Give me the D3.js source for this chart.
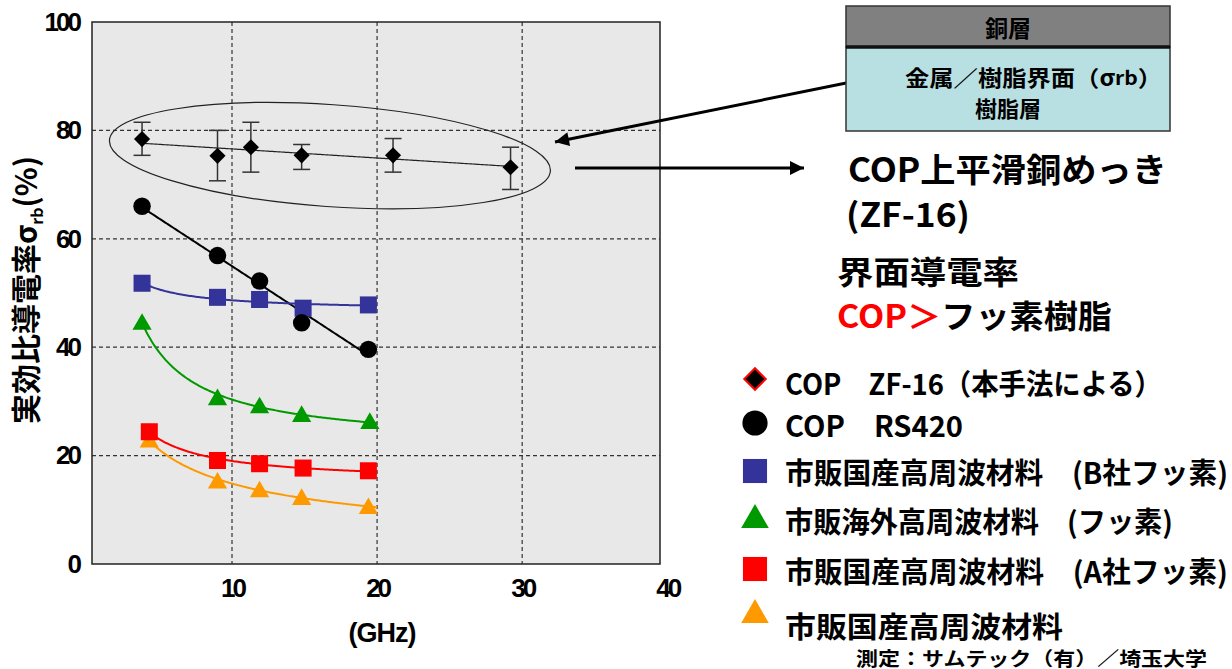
<!DOCTYPE html>
<html>
<head>
<meta charset="utf-8">
<script src="https://cdn.jsdelivr.net/npm/d3@7"></script>
<style>
  body { margin: 0; background: #fff; }
  svg { display: block; }
  text { font-family: "Noto Sans CJK JP", "Liberation Sans", sans-serif; font-weight: 700; }
</style>
</head>
<body>
<svg id="chart"></svg>
<script>
// frequency (GHz) / effective relative conductivity (%)
const freqZF  = [3.8, 9.0, 11.3, 14.8, 21.1, 29.2];
const sigmaZF = [78.4, 75.3, 76.9, 75.4, 75.4, 73.2];
const errHiZF = [81.5, 80.0, 81.5, 77.4, 78.5, 76.9];
const errLoZF = [75.4, 70.7, 72.3, 72.8, 72.3, 69.1];

const freqRS  = [3.8, 9.0, 11.9, 14.8, 19.4];
const sigmaRS = [66.0, 56.9, 52.2, 44.5, 39.6];

const freqB  = [3.8, 9.0, 11.9, 14.9, 19.4];
const sigmaB = [51.8, 49.2, 48.8, 47.2, 47.8];

const freqOv  = [3.8, 9.0, 11.9, 14.8, 19.5];
const sigmaOv = [44.6, 30.7, 29.2, 27.6, 26.3];

const freqA  = [4.3, 9.0, 11.9, 14.9, 19.4];
const sigmaA = [24.4, 19.1, 18.5, 17.7, 17.2];

const freqD  = [4.3, 9.0, 11.9, 14.8, 19.4];
const sigmaD = [22.9, 15.3, 13.7, 12.3, 10.6];

const xTicks = [10, 20, 30, 40];
const yTicks = [0, 20, 40, 60, 80, 100];

const legendLabels = [
  "COP\u3000ZF-16（本手法による）",
  "COP\u3000RS420",
  "市販国産高周波材料\u3000(B社フッ素)",
  "市販海外高周波材料\u3000(フッ素)",
  "市販国産高周波材料\u3000(A社フッ素)",
  "市販国産高周波材料"
];

const width = 1232, height = 669;
const plotL = 92, plotR = 660, plotT = 22, plotB = 564;

const svg = d3.select("#chart").attr("width", width).attr("height", height);

const x = d3.scaleLinear().domain([0.35, 39.5]).range([plotL, plotR]);
const y = d3.scaleLinear().domain([0, 100]).range([plotB, plotT]);

// plot area
svg.append("rect")
  .attr("x", plotL).attr("y", plotT)
  .attr("width", plotR - plotL).attr("height", plotB - plotT)
  .attr("fill", "#e8e8e8");

// grid
svg.append("g").selectAll("line").data(xTicks.filter(d => d < 40)).join("line")
  .attr("x1", d => x(d)).attr("x2", d => x(d))
  .attr("y1", plotT).attr("y2", plotB)
  .attr("stroke", "#333").attr("stroke-width", 1.2).attr("stroke-dasharray", "4,3");
svg.append("g").selectAll("line").data(yTicks.filter(d => d > 0 && d < 100)).join("line")
  .attr("x1", plotL).attr("x2", plotR)
  .attr("y1", d => y(d)).attr("y2", d => y(d))
  .attr("stroke", "#333").attr("stroke-width", 1.2).attr("stroke-dasharray", "4,3");

svg.append("rect")
  .attr("x", plotL).attr("y", plotT)
  .attr("width", plotR - plotL).attr("height", plotB - plotT)
  .attr("fill", "none").attr("stroke", "#222").attr("stroke-width", 1.5);

// axes
const tickStyle = g => g.selectAll("text")
  .style("font-family", "Liberation Sans, Arial, sans-serif")
  .style("font-size", "26px").style("font-weight", 700)
  .attr("letter-spacing", "-3").attr("fill", "#000");

svg.append("g")
  .attr("transform", `translate(${plotL},0)`)
  .call(d3.axisLeft(y).tickValues(yTicks).tickSize(0).tickPadding(13))
  .call(g => g.select(".domain").remove())
  .call(tickStyle);

svg.append("g")
  .attr("transform", `translate(0,${plotB})`)
  .call(d3.axisBottom(x).tickValues(xTicks).tickSize(0).tickPadding(15))
  .call(g => g.select(".domain").remove())
  .call(tickStyle);

svg.append("text")
  .attr("x", 382).attr("y", 642)
  .attr("text-anchor", "middle")
  .style("font-family", "Liberation Sans, Arial, sans-serif")
  .style("font-size", "27px").attr("letter-spacing", "-1")
  .text("(GHz)");

const ylab = svg.append("text")
  .attr("transform", "translate(37,290) rotate(-90)")
  .attr("text-anchor", "middle")
  .style("font-size", "30px");
ylab.append("tspan").text("実効比導電率σ");
ylab.append("tspan").attr("dy", 6).style("font-size", "16px").text("rb");
ylab.append("tspan").attr("dy", -6).text("(%)");

// trend fits: linear regression of fy(y) on fx(x)
function fit(xs, ys, fx, fy, fyInv) {
  const u = xs.map(fx), v = ys.map(fy);
  const mu = d3.mean(u), mv = d3.mean(v);
  const b = d3.sum(u, (w, i) => (w - mu) * (v[i] - mv)) / d3.sum(u, w => (w - mu) ** 2);
  const a = mv - b * mu;
  return t => fyInv(a + b * fx(t));
}
const id = t => t;
const models = {
  linear: [id, id, id],
  hyper: [t => 1 / t, id, id],
  power: [Math.log, Math.log, Math.exp]
};

function trend(xs, ys, model, x1, color, w) {
  const g = fit(xs, ys, ...models[model]);
  const pts = d3.range(xs[0], x1, 0.1).concat([x1]).map(t => [t, g(t)]);
  svg.append("path")
    .attr("d", d3.line().x(d => x(d[0])).y(d => y(d[1]))(pts))
    .attr("fill", "none").attr("stroke", color).attr("stroke-width", w);
}

trend(freqZF, sigmaZF, "linear", freqZF[freqZF.length - 1], "#222", 1.2);
trend(freqRS, sigmaRS, "linear", freqRS[freqRS.length - 1], "#000", 2);
trend(freqB, sigmaB, "hyper", 20, "#333399", 2);
trend(freqOv, sigmaOv, "hyper", 20, "#009900", 2);
trend(freqA, sigmaA, "hyper", 20, "#ff0000", 2);
trend(freqD, sigmaD, "power", 20, "#ff9900", 2);

// error bars
const eb = svg.append("g").attr("stroke", "#333").attr("stroke-width", 1.5);
freqZF.forEach((f, i) => {
  eb.append("line").attr("x1", x(f)).attr("x2", x(f)).attr("y1", y(errHiZF[i])).attr("y2", y(errLoZF[i]));
  eb.append("line").attr("x1", x(f) - 8.5).attr("x2", x(f) + 8.5).attr("y1", y(errHiZF[i])).attr("y2", y(errHiZF[i]));
  eb.append("line").attr("x1", x(f) - 8.5).attr("x2", x(f) + 8.5).attr("y1", y(errLoZF[i])).attr("y2", y(errLoZF[i]));
});

// markers
const sym = (type, size) => d3.symbol().type(type).size(size)();
function markers(xs, ys, type, size, fill, dy, rot) {
  svg.append("g").selectAll("path").data(xs).join("path")
    .attr("transform", (d, i) => `translate(${x(d)},${y(ys[i]) + (dy || 0)}) rotate(${rot || 0})`)
    .attr("d", sym(type, size))
    .attr("fill", fill);
}
markers(freqD, sigmaD, d3.symbolTriangle, 160, "#ff9900", 2);
markers(freqA, sigmaA, d3.symbolSquare, 290, "#ff0000");
markers(freqOv, sigmaOv, d3.symbolTriangle, 160, "#009900", 2);
markers(freqB, sigmaB, d3.symbolSquare, 290, "#333399");
markers(freqRS, sigmaRS, d3.symbolCircle, 240, "#000");
markers(freqZF, sigmaZF, d3.symbolSquare, 130, "#000", 0, 45);

// ellipse around ZF-16 data
svg.append("ellipse")
  .attr("transform", `translate(${x(16.75)},${y(75.35)}) rotate(4)`)
  .attr("rx", 221).attr("ry", 51)
  .attr("fill", "none").attr("stroke", "#222").attr("stroke-width", 1.2);

// arrows
const defs = svg.append("defs");
defs.append("marker").attr("id", "ah")
  .attr("viewBox", "0 0 10 10").attr("refX", 10).attr("refY", 5)
  .attr("markerWidth", 20).attr("markerHeight", 14)
  .attr("markerUnits", "userSpaceOnUse").attr("orient", "auto")
  .append("path").attr("d", "M0,0L10,5L0,10Z").attr("fill", "#000");

svg.append("line").attr("x1", 866).attr("y1", 79).attr("x2", 555).attr("y2", 142)
  .attr("stroke", "#000").attr("stroke-width", 3).attr("marker-end", "url(#ah)");
svg.append("line").attr("x1", 575).attr("y1", 168).attr("x2", 804).attr("y2", 168)
  .attr("stroke", "#000").attr("stroke-width", 3).attr("marker-end", "url(#ah)");

// layer box
svg.append("rect").attr("x", 846).attr("y", 6).attr("width", 324).attr("height", 41)
  .attr("fill", "#808080").attr("stroke", "#333").attr("stroke-width", 1.5);
svg.append("rect").attr("x", 846).attr("y", 47).attr("width", 324).attr("height", 84)
  .attr("fill", "#b8e0e2").attr("stroke", "#333").attr("stroke-width", 1.5);
svg.append("line").attr("x1", 846).attr("x2", 1170).attr("y1", 47).attr("y2", 47)
  .attr("stroke", "#111").attr("stroke-width", 3.5);
svg.append("text").attr("x", 1008).attr("y", 27).attr("text-anchor", "middle")
  .attr("dominant-baseline", "central").style("font-size", "23px").text("銅層");
const iface = svg.append("text").attr("x", 905).attr("y", 76)
  .attr("dominant-baseline", "central").style("font-size", "22px")
  .attr("textLength", 257).attr("lengthAdjust", "spacingAndGlyphs");
iface.append("tspan").text("金属／樹脂界面（σ");
iface.append("tspan").style("font-size", "19px").text("rb");
iface.append("tspan").text("）");
svg.append("text").attr("x", 1008).attr("y", 107).attr("text-anchor", "middle")
  .attr("dominant-baseline", "central").style("font-size", "22px").text("樹脂層");

// callout text
svg.append("text").attr("x", 848).attr("y", 168).attr("dominant-baseline", "central")
  .style("font-size", "33px").attr("textLength", 319).attr("lengthAdjust", "spacingAndGlyphs")
  .text("COP上平滑銅めっき");
svg.append("text").attr("x", 846).attr("y", 213).attr("dominant-baseline", "central")
  .style("font-size", "33px").attr("textLength", 124).attr("lengthAdjust", "spacingAndGlyphs")
  .text("(ZF-16)");
svg.append("text").attr("x", 837).attr("y", 270).attr("dominant-baseline", "central")
  .style("font-size", "32px").attr("textLength", 182).attr("lengthAdjust", "spacingAndGlyphs")
  .text("界面導電率");
const cmp = svg.append("text").attr("x", 837).attr("y", 314).attr("dominant-baseline", "central")
  .style("font-size", "32px").attr("textLength", 275).attr("lengthAdjust", "spacingAndGlyphs");
cmp.append("tspan").attr("fill", "#ff0000").text("COP＞");
cmp.append("tspan").text("フッ素樹脂");

// legend
const legendY = [379, 423, 471, 520, 569, 615];
const legendSym = [d3.symbolSquare, d3.symbolCircle, d3.symbolSquare, d3.symbolTriangle, d3.symbolSquare, d3.symbolTriangle];
const legendSize = [230, 500, 580, 330, 580, 330];
const legendRot = [45, 0, 0, 0, 0, 0];
const legendFill = ["#000", "#000", "#333399", "#009900", "#ff0000", "#ff9900"];
const textY = [382, 424, 471, 520, 570, 625];
const textLen = [377, 178, 443, 388, 443, 278];
const leg = svg.append("g");
legendLabels.forEach((lab, i) => {
  leg.append("path")
    .attr("transform", `translate(755,${legendY[i]}) rotate(${legendRot[i]})`)
    .attr("d", sym(legendSym[i], legendSize[i]))
    .attr("fill", legendFill[i])
    .attr("stroke", i === 0 ? "#ff0000" : "none").attr("stroke-width", 2);
  leg.append("text").attr("x", 785).attr("y", textY[i])
    .attr("dominant-baseline", "central")
    .style("font-size", "29px")
    .attr("textLength", textLen[i]).attr("lengthAdjust", "spacingAndGlyphs")
    .text(lab);
});

svg.append("text").attr("x", 856).attr("y", 657).attr("dominant-baseline", "central")
  .style("font-size", "19px").attr("textLength", 351).attr("lengthAdjust", "spacingAndGlyphs")
  .text("測定：サムテック（有）／埼玉大学");
</script>
</body>
</html>
